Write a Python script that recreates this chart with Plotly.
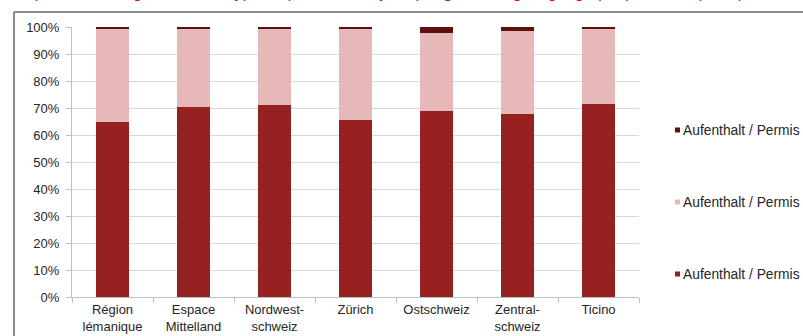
import plotly.graph_objects as go

# ---- data ----
regions = ["Région<br>lémanique", "Espace<br>Mittelland", "Nordwest-<br>schweiz",
           "Zürich", "Ostschweiz", "Zentral-<br>schweiz", "Ticino"]
permis_c = [64.8, 70.3, 71.1, 65.5, 68.8, 67.6, 71.4]
permis_l = [0.9, 0.9, 0.7, 0.7, 2.3, 1.3, 0.7]
permis_b = [round(100 - c - l, 1) for c, l in zip(permis_c, permis_l)]
series_names = ["Aufenthalt / Permis L", "Aufenthalt / Permis B", "Aufenthalt / Permis C"]
y_ticks = list(range(0, 101, 10))
y_tick_labels = [f"{v}%" for v in y_ticks]
title_text = ("Population étrangère selon le type de permis de séjour, "
              "par grande région géographique, 2012 (en %)")

# ---- style ----
W, H = 803, 336
L, R, T, B = 72, 639, 27, 297
col_c = "#952221"
col_b = "#E6B8B7"
col_l = "#5C1010"
font = "Liberation Sans, Arial, sans-serif"
txt = "#262626"

def px(x):
    return (x - L) / (R - L)

def py(y):
    return (B - y) / (B - T)

fig = go.Figure()
fig.add_bar(x=regions, y=permis_c, name=series_names[2], marker_color=col_c, marker_line_width=0)
fig.add_bar(x=regions, y=permis_b, name=series_names[1], marker_color=col_b, marker_line_width=0)
fig.add_bar(x=regions, y=permis_l, name=series_names[0], marker_color=col_l, marker_line_width=0)

fig.update_layout(
    width=W, height=H,
    margin=dict(l=L, r=W - R, t=T, b=H - B, pad=0, autoexpand=False),
    barmode="stack", bargap=0.59,
    showlegend=False,
    plot_bgcolor="white", paper_bgcolor="white",
    font=dict(family=font, size=13, color=txt),
)
fig.update_yaxes(
    range=[0, 100], tickvals=y_ticks, ticktext=y_tick_labels,
    showgrid=True, gridcolor="#D9D9D9", gridwidth=1,
    showline=True, linecolor="#BFBFBF", linewidth=1,
    ticks="outside", ticklen=5, tickcolor="#BFBFBF", ticklabelstandoff=4,
    zeroline=False, tickfont=dict(size=13, color=txt), automargin=False,
)
fig.update_xaxes(
    showline=True, linecolor="#BFBFBF", linewidth=1,
    ticks="outside", ticklen=5, tickcolor="#BFBFBF", tickson="boundaries",
    tickfont=dict(size=13, color=txt), tickangle=0, automargin=False,
)

# frame
fig.add_shape(type="line", xref="paper", yref="paper",
              x0=px(14), x1=px(820), y0=py(12), y1=py(12),
              line=dict(color="#8C8C8C", width=2))
fig.add_shape(type="line", xref="paper", yref="paper",
              x0=px(14), x1=px(14), y0=py(12), y1=py(350),
              line=dict(color="#8C8C8C", width=2))

# title (cut off at the top, as in the reference)
fig.add_annotation(text=title_text, xref="paper", yref="paper",
                   x=px(14), y=py(-8), xanchor="left", yanchor="middle",
                   showarrow=False, borderpad=0,
                   font=dict(family=font, size=16.2, color="#D0161B"))

# legend
leg_cols = [col_l, col_b, col_c]
leg_y = [130, 202, 274]
for name, c, yy in zip(series_names, leg_cols, leg_y):
    fig.add_shape(type="rect", xref="paper", yref="paper",
                  x0=px(675), x1=px(680), y0=py(yy - 2.5), y1=py(yy + 2.5),
                  fillcolor=c, line_width=0)
    fig.add_annotation(text=name, xref="paper", yref="paper",
                       x=px(682), y=py(yy), xanchor="left", yanchor="middle",
                       showarrow=False, borderpad=0,
                       font=dict(family=font, size=13.8, color=txt))

fig.write_html("out.html", config={"displayModeBar": False},
               post_script="document.body.style.margin='0px';")
